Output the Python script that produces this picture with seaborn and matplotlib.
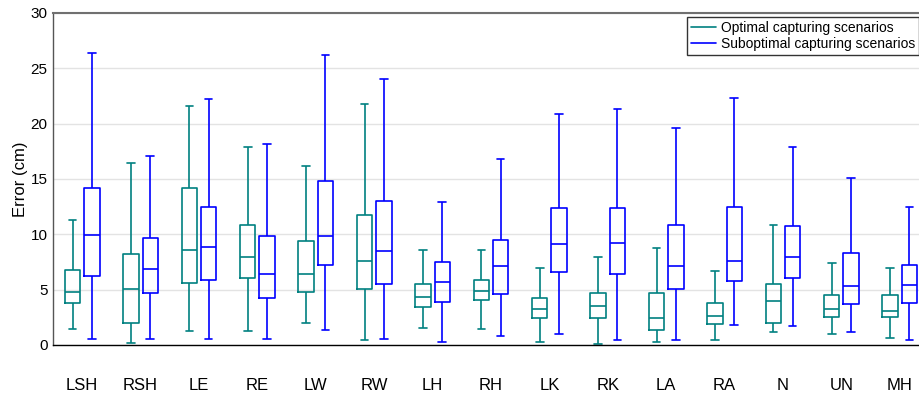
"""
Box plots of joint position error for optimal vs suboptimal capturing scenarios.
"""

import matplotlib.pyplot as plt
import pandas as pd
import seaborn as sns
from matplotlib.lines import Line2D

# ---------------------------------------------------------------------------
# Data (five-number summaries, in cm)
# ---------------------------------------------------------------------------
JOINTS = ["LSH", "RSH", "LE", "RE", "LW", "RW", "LH", "RH",
          "LK", "RK", "LA", "RA", "N", "UN", "MH"]

opt_min = [1.41, 0.21, 1.26, 1.29, 1.95, 0.45, 1.56, 1.44, 0.30, 0.12, 0.30, 0.48, 1.17, 1.02, 0.66]
opt_q1 = [3.78, 1.95, 5.56, 6.04, 4.77, 5.05, 3.45, 4.05, 2.40, 2.46, 1.35, 1.89, 1.95, 2.52, 2.55]
opt_med = [4.80, 5.02, 8.56, 7.96, 6.46, 7.57, 4.38, 4.89, 3.27, 3.54, 2.46, 2.61, 4.02, 3.24, 3.09]
opt_q3 = [6.79, 8.26, 14.17, 10.87, 9.37, 11.77, 5.53, 5.86, 4.23, 4.68, 4.68, 3.81, 5.47, 4.53, 4.53]
opt_max = [11.29, 16.43, 21.59, 17.93, 16.13, 21.74, 8.59, 8.59, 6.97, 7.99, 8.74, 6.67, 10.81, 7.39, 6.97]

sub_min = [0.57, 0.51, 0.57, 0.51, 1.35, 0.57, 0.24, 0.81, 1.02, 0.45, 0.45, 1.83, 1.71, 1.14, 0.42]
sub_q1 = [6.22, 4.71, 5.89, 4.26, 7.24, 5.53, 3.90, 4.59, 6.61, 6.46, 5.02, 5.77, 6.01, 3.72, 3.81]
sub_med = [9.91, 6.88, 8.89, 6.46, 9.88, 8.50, 5.68, 7.18, 9.16, 9.19, 7.12, 7.63, 7.93, 5.32, 5.41]
sub_q3 = [14.23, 9.67, 12.46, 9.85, 14.83, 12.97, 7.51, 9.52, 12.34, 12.37, 10.84, 12.43, 10.75, 8.32, 7.24]
sub_max = [26.37, 17.06, 22.25, 18.20, 26.25, 24.05, 12.94, 16.82, 20.84, 21.29, 19.58, 22.34, 17.93, 15.05, 12.46]

SCENARIOS = ["Optimal capturing scenarios", "Suboptimal capturing scenarios"]
COLORS = ["#008080", "#0000ff"]


def build_frame() -> pd.DataFrame:
    """Five values per box -> quartiles land exactly on the summary values."""
    rows = []
    series = {
        SCENARIOS[0]: (opt_min, opt_q1, opt_med, opt_q3, opt_max),
        SCENARIOS[1]: (sub_min, sub_q1, sub_med, sub_q3, sub_max),
    }
    for scen, stats in series.items():
        for i, joint in enumerate(JOINTS):
            for s in stats:
                rows.append({"joint": joint, "error": s[i], "scenario": scen})
    return pd.DataFrame(rows)


df = build_frame()

sns.set_theme(style="white")
plt.rcParams["font.family"] = ["Liberation Sans", "DejaVu Sans"]
plt.rcParams.update(
    {
        "text.color": "black",
        "axes.labelcolor": "black",
        "xtick.color": "black",
        "ytick.color": "black",
    }
)

fig = plt.figure(figsize=(9.19, 3.95), dpi=100)
ax = fig.add_axes([53 / 919, 50 / 395, 876 / 919, 332 / 395])

sns.boxplot(
    data=df,
    x="joint",
    y="error",
    hue="scenario",
    order=JOINTS,
    hue_order=SCENARIOS,
    palette=COLORS,
    whis=(0, 100),
    showfliers=False,
    fill=False,
    width=0.66,
    gap=0.2,
    linewidth=1.2,
    legend=False,
    ax=ax,
)

ax.set_xlim(-0.5, len(JOINTS) - 0.5)
ax.set_ylim(0, 30)
ax.set_yticks(range(0, 31, 5))
ax.yaxis.grid(True, color="#e3e3e3", linewidth=1.0)
ax.set_axisbelow(True)
ax.set_xlabel("")
ax.set_ylabel("Error (cm)", fontsize=12, labelpad=2)
ax.tick_params(axis="x", length=0, pad=24, labelsize=12)
ax.tick_params(axis="y", length=3, width=1.0, direction="in",
               color="#333333", labelsize=11, pad=4)

ax.spines["left"].set_color("#555555")
ax.spines["left"].set_linewidth(1.0)
ax.spines["bottom"].set_color("black")
ax.spines["bottom"].set_linewidth(1.0)
ax.spines["top"].set_color("#707070")
ax.spines["top"].set_linewidth(1.5)
ax.spines["right"].set_visible(False)

handles = [Line2D([0], [0], color=c, lw=1.2) for c in COLORS]
leg = ax.legend(
    handles,
    SCENARIOS,
    loc="upper right",
    bbox_to_anchor=(919 / 919, 1 - 17 / 395),
    bbox_transform=fig.transFigure,
    borderaxespad=0,
    fontsize=10,
    frameon=True,
    fancybox=False,
    handlelength=1.8,
    handletextpad=0.3,
    labelspacing=0.1,
    borderpad=0.3,
)
leg.get_frame().set_edgecolor("black")
leg.get_frame().set_linewidth(1.0)

fig.savefig("out.png", dpi=100)
